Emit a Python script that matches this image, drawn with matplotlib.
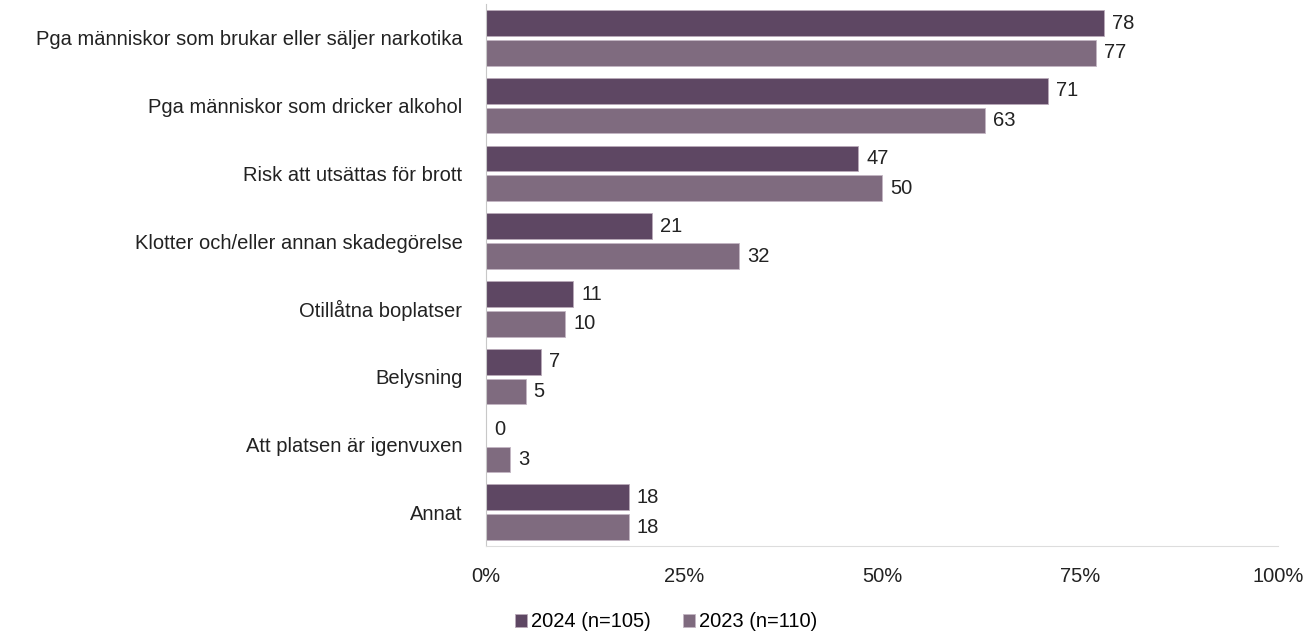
import matplotlib.pyplot as plt
import numpy as np

plt.rcParams['font.family'] = ['Liberation Sans', 'DejaVu Sans']

categories = [
    'Pga människor som brukar eller säljer narkotika',
    'Pga människor som dricker alkohol',
    'Risk att utsättas för brott',
    'Klotter och/eller annan skadegörelse',
    'Otillåtna boplatser',
    'Belysning',
    'Att platsen är igenvuxen',
    'Annat',
]
values_2024 = [78, 71, 47, 21, 11, 7, 0, 18]
values_2023 = [77, 63, 50, 32, 10, 5, 3, 18]
series_labels = ['2024 (n=105)', '2023 (n=110)']
x_ticks = [0, 25, 50, 75, 100]

dark = '#5E4763'
light = '#7F6B7F'
fs = 14.5

fig = plt.figure(figsize=(13.08, 6.35), dpi=100)
ax = fig.add_axes([0.3716, 0.140, 0.6054, 0.8536])

y = np.arange(len(categories))
h = 0.38
gap = 0.06
b1 = ax.barh(y - h / 2 - gap / 2, values_2024, height=h, color=dark,
             edgecolor='#B9AAB9', linewidth=0.6, label=series_labels[0])
b2 = ax.barh(y + h / 2 + gap / 2, values_2023, height=h, color=light,
             edgecolor='#C3B6C3', linewidth=0.6, label=series_labels[1])

# value labels right of each bar
for bars, vals in [(b1, values_2024), (b2, values_2023)]:
    for bar, v in zip(bars, vals):
        ax.text(v + 1.0, bar.get_y() + bar.get_height() / 2, str(v),
                va='center', ha='left', fontsize=fs, color='#222222')

ax.set_xlim(0, 100)
ax.set_ylim(len(categories) - 0.5, -0.5)
ax.set_xticks(x_ticks)
ax.set_xticklabels([f'{t}%' for t in x_ticks], fontsize=fs, color='#222222')
ax.set_yticks(y)
ax.set_yticklabels(categories, fontsize=fs, color='#222222')
ax.tick_params(axis='both', length=0)
ax.tick_params(axis='x', pad=15)
ax.tick_params(axis='y', pad=17)

for s in ['top', 'right']:
    ax.spines[s].set_visible(False)
ax.spines['left'].set_color('#C8C8C8')
ax.spines['bottom'].set_color('#DDDDDD')

fig.legend(handles=[b1, b2], labels=series_labels, loc='center',
           bbox_to_anchor=(0.509, 0.0205), ncol=2, frameon=False,
           fontsize=fs, handlelength=0.6, handleheight=0.6,
           handletextpad=0.2, columnspacing=1.6)

fig.savefig('out.png', dpi=100)
